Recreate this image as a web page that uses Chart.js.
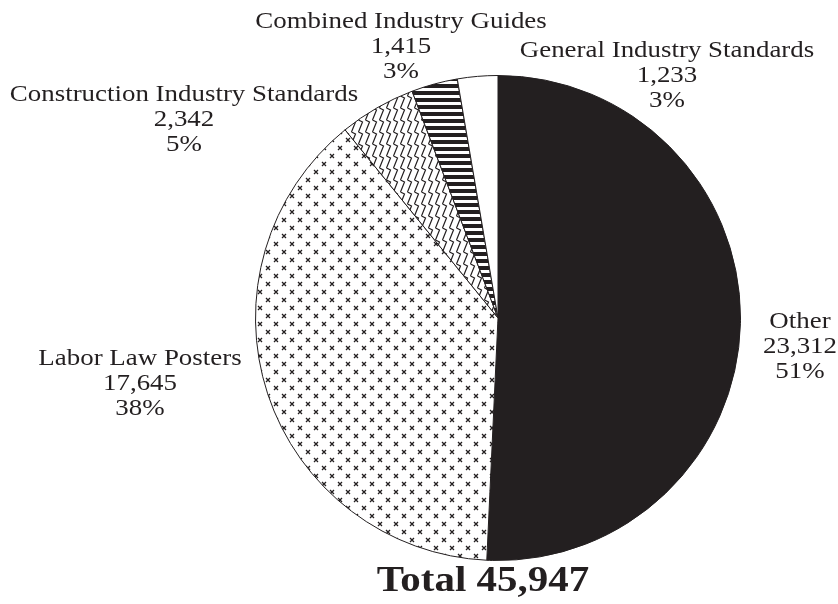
<!DOCTYPE html>
<html>
<head>
<meta charset="utf-8">
<script src="https://cdn.jsdelivr.net/npm/chart.js@4.4.1/dist/chart.umd.min.js"></script>
<style>
  html, body { margin: 0; padding: 0; background: #fff; }
  #wrap { width: 838px; height: 604px; }
</style>
</head>
<body>
<div id="wrap"><canvas id="chartPedidos" width="838" height="604"></canvas></div>
<script>
const categorias = ['Other', 'Labor Law Posters', 'Construction Industry Standards', 'Combined Industry Guides', 'General Industry Standards'];
const cantidades = [23312, 17645, 2342, 1415, 1233];
const porcentajes = ['51%', '38%', '5%', '3%', '3%'];
const totalTexto = 'Total 45,947';

const INK = '#231f20';

// Tramas de relleno
function tramaCruces() {
  const c = document.createElement('canvas');
  c.width = 16; c.height = 16;
  const g = c.getContext('2d');
  g.fillStyle = '#fff';
  g.fillRect(0, 0, 16, 16);
  g.strokeStyle = INK;
  g.lineWidth = 1.3;
  [[4, 4], [12, 12]].forEach(([x, y]) => {
    g.beginPath();
    g.moveTo(x - 2, y - 2); g.lineTo(x + 2, y + 2);
    g.moveTo(x + 2, y - 2); g.lineTo(x - 2, y + 2);
    g.stroke();
  });
  return g.createPattern(c, 'repeat');
}

function tramaZigzag() {
  const c = document.createElement('canvas');
  c.width = 7; c.height = 12;
  const g = c.getContext('2d');
  g.fillStyle = '#fff';
  g.fillRect(0, 0, 7, 12);
  g.strokeStyle = INK;
  g.lineWidth = 1.2;
  g.beginPath();
  g.moveTo(1.5, 12); g.lineTo(5.5, 2); g.lineTo(1.5, 0);
  g.stroke();
  return g.createPattern(c, 'repeat');
}

function tramaRayas() {
  const c = document.createElement('canvas');
  c.width = 7; c.height = 7;
  const g = c.getContext('2d');
  g.fillStyle = '#fff';
  g.fillRect(0, 0, 7, 7);
  g.fillStyle = INK;
  g.fillRect(0, 0, 7, 4);
  return g.createPattern(c, 'repeat');
}

// Posición de cada etiqueta respecto al centro del gráfico (línea central)
const desplazamientos = [[302, 27], [-358, 64], [-314, -200], [-97, -273], [169, -244]];
const ESTIRADO = 1.17;

function texto(ctx, t, x, y) {
  ctx.save();
  ctx.translate(x, y);
  ctx.scale(ESTIRADO, 1);
  ctx.fillText(t, 0, 0);
  ctx.restore();
}

const etiquetasPlugin = {
  id: 'etiquetas',
  afterDraw(chart) {
    const arc = chart.getDatasetMeta(0).data[0];
    if (!arc) return;
    const cx = arc.x, cy = arc.y;
    const ctx = chart.ctx;
    ctx.save();
    ctx.fillStyle = INK;
    ctx.textAlign = 'center';
    ctx.textBaseline = 'middle';
    ctx.font = '23px "Liberation Serif", "Times New Roman", serif';
    const alto = 25.3;
    categorias.forEach((cat, i) => {
      const [dx, dy] = desplazamientos[i];
      const lineas = [cat, cantidades[i].toLocaleString('en-US'), porcentajes[i]];
      lineas.forEach((t, j) => {
        texto(ctx, t, cx + dx, cy + dy + 2 + (j - 1) * alto);
      });
    });
    ctx.font = 'bold 35px "Liberation Serif", "Times New Roman", serif';
    texto(ctx, totalTexto, cx - 15, cy + 264);
    ctx.restore();
  }
};

new Chart(document.getElementById('chartPedidos'), {
  type: 'pie',
  data: {
    labels: categorias,
    datasets: [{
      data: cantidades,
      backgroundColor: [INK, tramaCruces(), tramaZigzag(), tramaRayas(), '#fff'],
      borderColor: INK,
      borderWidth: 1
    }]
  },
  options: {
    responsive: false,
    animation: false,
    layout: { padding: { left: 255, right: 97, top: 75, bottom: 43 } },
    plugins: {
      legend: { display: false },
      tooltip: { enabled: false }
    }
  },
  plugins: [etiquetasPlugin]
});
</script>
</body>
</html>
